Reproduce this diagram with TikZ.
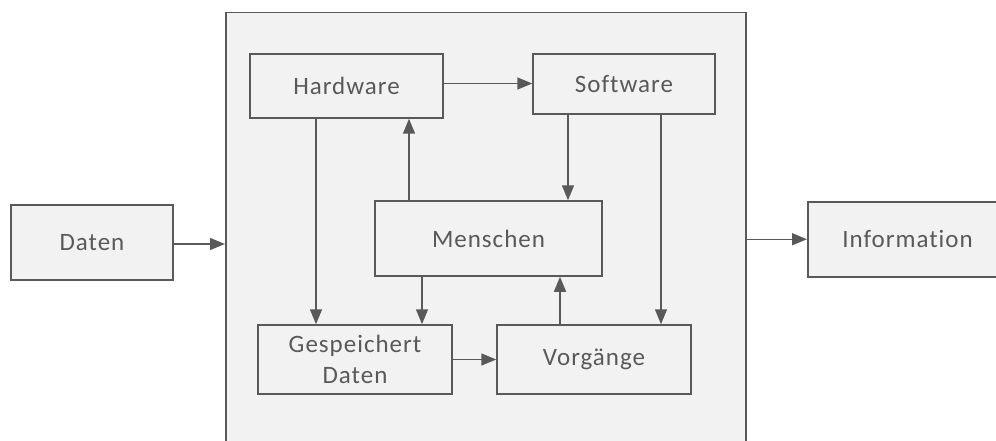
\documentclass[tikz,border=0pt]{standalone}
\usepackage{fontspec}
\setmainfont{Carlito}[LetterSpace=4,Ligatures=NoCommon]
\usetikzlibrary{arrows.meta}
\definecolor{edge}{HTML}{595959}
\definecolor{panel}{HTML}{F2F2F2}
\tikzset{
  label/.style={text=edge, font=\fontsize{25}{31}\selectfont, align=center},
  box/.style={label, draw=edge, line width=1.5pt, fill=panel, rectangle, inner sep=0pt},
  arr/.style={draw=edge, line width=1.5pt, -{Triangle[length=15pt,width=12pt]}}
}
\begin{document}
\begin{tikzpicture}[x=1pt,y=-1pt]
\useasboundingbox (0,0) rectangle (996,441);
\clip (0,0) rectangle (996,441);
\fill[white] (0,0) rectangle (996,441);
% outer system frame
\node[box, minimum width=520pt, minimum height=460pt, anchor=north west] (sys) at (225,12) {};
% input and output
\node[box, minimum width=162pt, minimum height=75pt] (daten) at (92,242.5) {Daten};
\node[box, minimum width=220pt, minimum height=75pt, anchor=north west] (info) at (807,201) {};
\node[label] (infot) at (907.5,238.5) {Information};
% components
\node[box, minimum width=193pt, minimum height=64pt] (hw) at (346.5,86) {Hardware};
\node[box, minimum width=182pt, minimum height=60pt] (sw) at (624,84) {Software};
\node[box, minimum width=227pt, minimum height=75pt] (men) at (488.5,238.5) {Menschen};
\node[box, minimum width=194pt, minimum height=69pt] (gd) at (355,359.5) {Gespeichert\\Daten};
\node[box, minimum width=194pt, minimum height=69pt] (vg) at (594,359.5) {Vorgänge};
% flows
\draw[arr] (daten.east |- 0,244) -- (sys.west |- 0,244);
\draw[arr] (sys.east |- info.west) -- (info.west);
\draw[arr] (hw.east |- 0,83.5) -- (sw.west |- 0,83.5);
\draw[arr] (316,0 |- hw.south) -- (316,0 |- gd.north);
\draw[arr] (409,0 |- men.north) -- (409,0 |- hw.south);
\draw[arr] (568,0 |- sw.south) -- (568,0 |- men.north);
\draw[arr] (661,0 |- sw.south) -- (661,0 |- vg.north);
\draw[arr] (422,0 |- men.south) -- (422,0 |- gd.north);
\draw[arr] (560,0 |- vg.north) -- (560,0 |- men.south);
\draw[arr] (gd.east) -- (vg.west);
\end{tikzpicture}
\end{document}
